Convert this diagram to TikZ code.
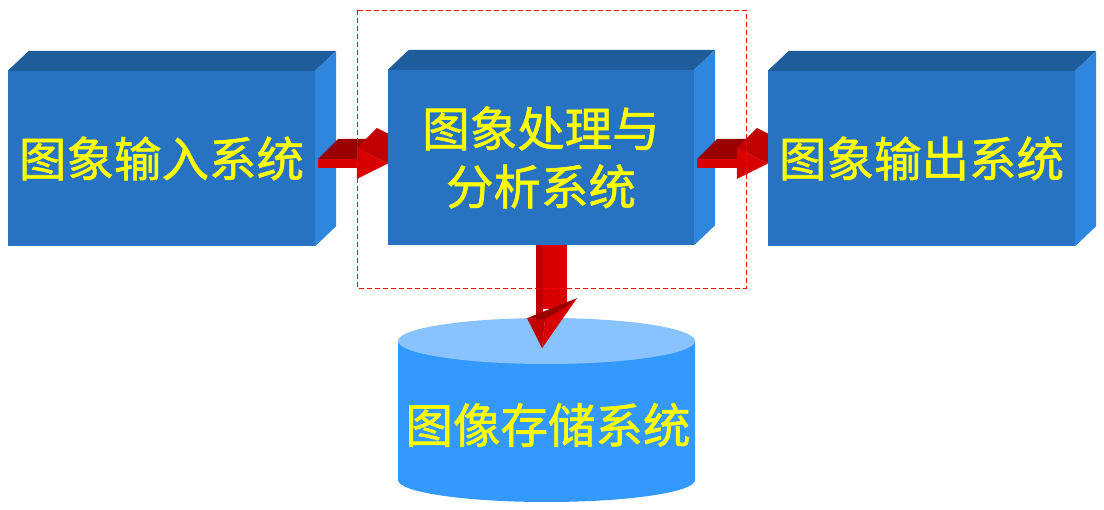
\documentclass[tikz,border=0pt]{standalone}
\usepackage{fontspec}
\newfontfamily\cjk[FakeBold=1.2]{Noto Sans CJK SC}
\usetikzlibrary{calc}
\usetikzlibrary{positioning}

\definecolor{boxfront}{HTML}{2873C1}
\definecolor{boxtop}{HTML}{1F5C9C}
\definecolor{boxside}{HTML}{2E87DD}
\definecolor{cylbody}{HTML}{3399FF}
\definecolor{cyltop}{HTML}{88C2FF}
\definecolor{arrdark}{HTML}{990000}
\definecolor{arrmid}{HTML}{C00000}
\definecolor{arrlight}{HTML}{D80000}
\definecolor{txtyellow}{HTML}{FFFF00}

\pgfdeclarelayer{back}
\pgfdeclarelayer{mid}
\pgfsetlayers{back,mid,main}

% flat 3d block arrow, #1 = start of shaft, #2 = tip
\newcommand{\harrow}[2]{%
  \fill[arrdark] ($(#1)+(0,-4.5)$) -- ++(20,-20) -- ($(#2)+(-11,-24.5)$) -- ($(#2)+(-31,-4.5)$) -- cycle;
  \fill[arrlight] ($(#1)+(0,-4.5)$) rectangle ($(#2)+(-31,4.5)$);
  \fill[arrmid] ($(#2)+(-31,-15.5)$) -- ++(20,-20) -- ($(#2)+(20,-20)$) -- (#2) -- cycle;
  \fill[arrlight] ($(#2)+(-31,-15.5)$) -- (#2) -- ($(#2)+(-31,15.5)$) -- cycle;
}

\begin{document}
\begin{tikzpicture}[x=1pt, y=-1pt,
    frontbox/.style={rectangle, fill=boxfront, minimum height=175pt, inner sep=0pt, text=txtyellow, font=\cjk\fontsize{47.5}{58}\selectfont},
    frame/.style={red, line width=0.8pt, dash pattern=on 5pt off 3pt}]
        \useasboundingbox (0,0) rectangle (1104,510);

        % the three boxes (front faces)
        \node[frontbox, minimum width=307pt] (input) at (161.5,158.5) {图象输入系统};
        \node[frontbox, minimum width=306pt, align=center] (proc) at (541,157.5) {图象处理与\\分析系统};
        \node[frontbox, minimum width=307pt] (output) at (921.5,158.5) {图象输出系统};
        \node[text=txtyellow, font=\cjk\fontsize{47.5}{58}\selectfont] (store) at (548,425) {图像存储系统};

        \begin{pgfonlayer}{back}
          % top and right faces of the boxes
          \foreach \b in {input,proc,output}
          {
            \fill[boxtop] (\b.north west) -- ++(21,-20) -- ($(\b.north east)+(21,-20)$) -- (\b.north east) -- cycle;
            \fill[boxside] (\b.north east) -- ++(21,-20) -- ($(\b.south east)+(21,-20)$) -- (\b.south east) -- cycle;
          }
          % the storage cylinder
          \fill[cylbody] (398,341) -- (398,480) arc[start angle=180, end angle=0, x radius=148.5, y radius=22] -- (695,341) -- cycle;
          \fill[cyltop] (546.5,341) ellipse[x radius=148.5, y radius=23];
        \end{pgfonlayer}

        \begin{pgfonlayer}{mid}
          \coordinate (a1) at ($(input.east)+(3,5)$);
          \coordinate (t1) at ($(proc.west)+(0,6)$);
          \coordinate (a2) at ($(proc.east)+(3,6)$);
          \coordinate (t2) at ($(output.west)+(0,5)$);
          \harrow{a1}{t1}
          \harrow{a2}{t2}

          % arrow down to the store
          \coordinate (a3) at (proc.south);
          \fill[arrmid] ($(a3)+(-5,0)$) rectangle ($(a3)+(2,76)$);
          \fill[arrlight] ($(a3)+(2,0)$) rectangle ($(a3)+(26,64)$);
          \fill[arrmid] ($(a3)+(-14,73)$) -- ($(a3)+(4,74)$) -- ($(a3)+(1,103)$) -- cycle;
          \fill[arrlight] ($(a3)+(4,74)$) -- ($(a3)+(36,53)$) -- ($(a3)+(1,103)$) -- cycle;
          \fill[arrdark] ($(a3)+(-14,73)$) -- ($(a3)+(36,53)$) -- ($(a3)+(26,61)$) -- ($(a3)+(4,74)$) -- cycle;
        \end{pgfonlayer}

        % dashed frame round the processing box
        \draw[frame] (357,10) rectangle (746,288);
      \end{tikzpicture}
\end{document}
